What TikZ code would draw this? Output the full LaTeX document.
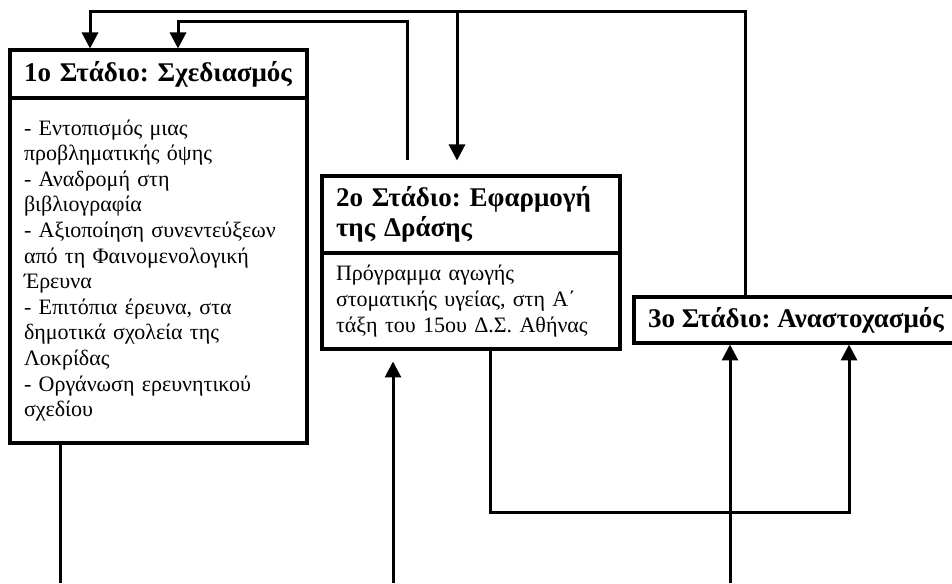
\documentclass[tikz,border=0pt]{standalone}
\usepackage{fontspec}
\setmainfont{Liberation Serif}
\usetikzlibrary{positioning, arrows.meta, calc}
\frenchspacing

\begin{document}
\begin{tikzpicture}[
    x=1pt, y=1pt,
    head/.style={rectangle, draw, line width=4pt, outer sep=0pt, inner xsep=14pt, align=left, font=\fontsize{27}{30}\selectfont\bfseries},
    body/.style={rectangle, draw, line width=4pt, outer sep=0pt, inner xsep=14pt, align=left, font=\fontsize{22}{25.6}\selectfont},
    line/.style={draw, line width=3pt, -{Triangle[length=16pt, width=16pt]}, shorten >=1.5pt},
    wire/.style={draw, line width=3pt}
]
    \useasboundingbox (0,0) rectangle (952,583);

    % Stages
    \node [head, anchor=north west, text width=269pt, minimum height=48pt] (head1) at (10,533) {1ο Στάδιο: Σχεδιασμός};
    \node [body, below=0pt of head1, text width=269pt, minimum height=345pt] (body1) {- Εντοπισμός μιας\\
        προβληματικής όψης\\
        - Αναδρομή στη\\
        βιβλιογραφία\\
        - Αξιοποίηση συνεντεύξεων\\
        από τη Φαινομενολογική\\
        Έρευνα\\
        - Επιτόπια έρευνα, στα\\
        δημοτικά σχολεία της\\
        Λοκρίδας\\
        - Οργάνωση ερευνητικού\\
        σχεδίου};
    \node [head, anchor=north west, text width=270pt, minimum height=77pt] (head2) at (322,407) {2ο Στάδιο: Εφαρμογή\\της Δράσης};
    \node [body, below=0pt of head2, text width=270pt, minimum height=96pt] (body2) {Πρόγραμμα αγωγής\\
        στοματικής υγείας, στη Α΄\\
        τάξη του 15ου Δ.Σ. Αθήνας};
    \node [head, anchor=north west, minimum width=314pt, minimum height=46pt] (head3) at (634,286) {3ο Στάδιο: Αναστοχασμός};

    % Free ends and bends
    \coordinate (railA) at (745,571);
    \coordinate (railB) at (407,561);
    \coordinate (rise2) at (407,423);
    \coordinate (drop2) at (457,421);
    \coordinate (exit1) at (60,0);
    \coordinate (in2) at (393,0);
    \coordinate (tip2) at (393,223);
    \coordinate (loop) at (490,70);
    \coordinate (in3) at (730,0);

    % Feedback to the first stages
    \draw [line] (head3.north -| railA) -- (railA) -| ($(head1.north west)+(80,0)$);
    \draw [line] (railA -| drop2) -- (drop2);
    \draw [line] (rise2) -- (railB) -| ($(head1.north west)+(168,0)$);

    % Lines from below
    \draw [wire] (body1.south -| exit1) -- (exit1);
    \draw [line] (in2) -- (tip2);
    \draw [line] (body2.south -| loop) -- (loop) -| ($(head3.south west)+(215,0)$);
    \draw [line] (in3) -- (head3.south -| in3);

\end{tikzpicture}
\end{document}
